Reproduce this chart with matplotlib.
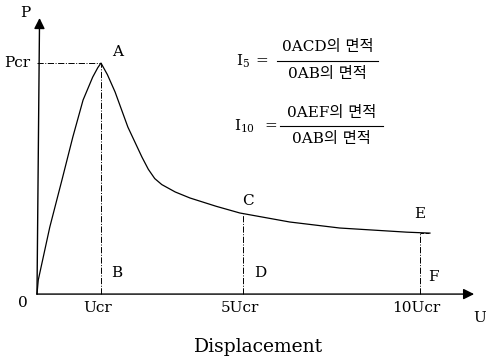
import matplotlib.pyplot as plt
from matplotlib.lines import Line2D
import numpy as np

# schematic load-displacement curve (U in plotted units, P / Pcr)
u_curve = [0, 0.02, 0.2, 0.39, 0.56, 0.72, 0.87, 0.95, 1.0, 1.1, 1.22, 1.42, 1.64,
           1.74, 1.84, 1.95, 2.16, 2.39, 2.8, 3.17, 3.95, 4.73, 5.78, 6.14]
p_curve = [0, 0.061, 0.29, 0.494, 0.68, 0.84, 0.939, 0.98, 1.0, 0.95, 0.875, 0.723,
           0.593, 0.54, 0.5, 0.474, 0.442, 0.416, 0.38, 0.351, 0.312, 0.286, 0.268, 0.264]

tick_pos = [1.0, 3.22, 5.98]
tick_labels = ['Ucr', '5Ucr', '10Ucr']
top_labels = ['A', 'C', 'E']
base_labels = ['B', 'D', 'F']

plt.rcParams['font.family'] = ['DejaVu Serif', 'Noto Sans CJK KR']
plt.rcParams['mathtext.fontset'] = 'dejavuserif'

fig = plt.figure(figsize=(4.86, 3.59), dpi=100)
ax = fig.add_axes([0, 0, 1, 1])
ax.set_xlim(-0.578, 7.016)
ax.set_ylim(-0.281, 1.273)
ax.axis('off')

# axes with arrows
ax.annotate('', xy=(0.04, 1.195), xytext=(0, 0),
            arrowprops=dict(arrowstyle='-|>', mutation_scale=16, lw=1, color='k',
                            shrinkA=0, shrinkB=0))
ax.annotate('', xy=(6.83, 0), xytext=(0, 0),
            arrowprops=dict(arrowstyle='-|>', mutation_scale=16, lw=1, color='k',
                            shrinkA=0, shrinkB=0))

ax.plot(u_curve, p_curve, color='k', lw=0.9)

p_at = np.interp(tick_pos, u_curve, p_curve)

# dash-dot guides
ax.plot([0, tick_pos[0]], [p_at[0], p_at[0]], color='k', lw=0.7, ls='-.')
for t, p in zip(tick_pos, p_at):
    ax.plot([t, t], [0, p], color='k', lw=0.7, ls='-.')
ax.plot([tick_pos[2], u_curve[-1]], [p_at[2], p_at[2]], color='k', lw=0.7, ls='--')

fs = 11
top_off = [(17, 11), (5, 13), (0, 19)]
for t, p, lab, off in zip(tick_pos, p_at, top_labels, top_off):
    ax.annotate(lab, (t, p), xytext=off, textcoords='offset pixels',
                ha='center', va='center', fontsize=fs)
base_off = [(16, 21), (17, 21), (14, 17)]
for t, lab, off in zip(tick_pos, base_labels, base_off):
    ax.annotate(lab, (t, 0), xytext=off, textcoords='offset pixels',
                ha='center', va='center', fontsize=fs)
for t, lab in zip(tick_pos, tick_labels):
    ax.annotate(lab, (t, 0), xytext=(-3, -14), textcoords='offset pixels',
                ha='center', va='center', fontsize=fs)

ax.annotate('0', (0, 0), xytext=(-14, -9), textcoords='offset pixels',
            ha='center', va='center', fontsize=fs)
ax.annotate('Pcr', (0, p_at[0]), xytext=(-20, 0), textcoords='offset pixels',
            ha='center', va='center', fontsize=fs)
ax.text(-0.19, 1.216, 'P', ha='center', va='center', fontsize=fs)
ax.text(6.92, -0.104, 'U', ha='center', va='center', fontsize=fs)
fig.text(259 / 486, 1 - 347 / 359, 'Displacement', ha='center', va='center', fontsize=13.5)

# index formulas
def fraction(x_lab, x_eq, y_num, y_line, y_den, x0, x1, lab, sub, num, den):
    fig.text(x_lab / 486, 1 - y_line / 359, lab + '$_{' + sub + '}$', ha='center', va='center', fontsize=fs)
    fig.text(x_eq / 486, 1 - y_line / 359, '=', ha='center', va='center', fontsize=fs)
    fig.text((x0 + x1) / 2 / 486, 1 - y_num / 359, num, ha='center', va='center', fontsize=fs)
    fig.text((x0 + x1) / 2 / 486, 1 - y_den / 359, den, ha='center', va='center', fontsize=fs)
    fig.add_artist(Line2D([x0 / 486, x1 / 486], [1 - y_line / 359] * 2, color='k', lw=0.8,
                          transform=fig.transFigure))

fraction(243, 262, 47, 61, 74, 277, 378, 'I', '5', '0ACD의 면적', '0AB의 면적')
fraction(245, 271, 113, 126, 139, 280, 383, 'I', '10', '0AEF의 면적', '0AB의 면적')

fig.savefig('out.png', dpi=100)
